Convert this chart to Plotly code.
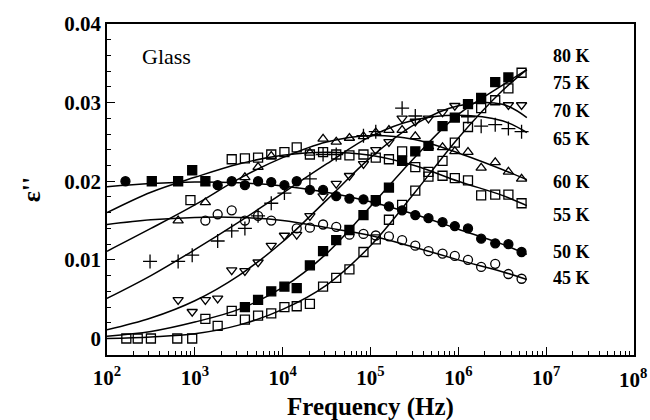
import numpy as np
import plotly.graph_objects as go

# ---- measured points: log10(frequency / Hz) and epsilon'' ----
f45 = [3.12, 3.26, 3.42, 3.57, 3.72, 3.87, 4.16, 4.31, 4.46, 4.61, 4.76, 4.92, 5.06, 5.21, 5.36, 5.51, 5.66, 5.82, 5.96, 6.11, 6.26, 6.42, 6.57, 6.72]
e45 = [0.0150, 0.0158, 0.0163, 0.0150, 0.0156, 0.0150, 0.0140, 0.0141, 0.0145, 0.0142, 0.0132, 0.0133, 0.0131, 0.0130, 0.0125, 0.0118, 0.0111, 0.0108, 0.0105, 0.0100, 0.0091, 0.0095, 0.0082, 0.0076]

f50 = [2.21, 3.26, 3.42, 3.57, 3.72, 3.87, 4.02, 4.16, 4.31, 4.46, 4.61, 4.76, 4.92, 5.06, 5.21, 5.36, 5.51, 5.66, 5.82, 5.96, 6.11, 6.26, 6.42, 6.57, 6.72]
e50 = [0.0200, 0.0195, 0.0200, 0.0195, 0.0200, 0.0199, 0.0195, 0.0200, 0.0189, 0.0189, 0.0181, 0.0178, 0.0177, 0.0174, 0.0168, 0.0163, 0.0157, 0.0153, 0.0148, 0.0143, 0.0140, 0.0127, 0.0121, 0.0120, 0.0110]

f_sq_low = [2.51, 2.81, 2.97, 3.12]
e_sq_low = [0.0200, 0.0200, 0.0214, 0.0200]

f55 = [2.95, 3.42, 3.57, 3.72, 3.87, 4.02, 4.16, 4.31, 4.46, 4.61, 4.76, 4.92, 5.06, 5.21, 5.36, 5.51, 5.66, 5.82, 5.96, 6.11, 6.26, 6.42, 6.57, 6.72]
e55 = [0.0176, 0.0228, 0.0229, 0.0230, 0.0234, 0.0237, 0.0243, 0.0234, 0.0237, 0.0234, 0.0233, 0.0234, 0.0230, 0.0228, 0.0238, 0.0218, 0.0212, 0.0207, 0.0204, 0.0201, 0.0182, 0.0183, 0.0183, 0.0172]

f60 = [2.81, 3.12, 3.57, 3.72, 3.87, 4.31, 4.46, 4.61, 4.76, 4.92, 5.06, 5.21, 5.36, 5.51, 5.66, 5.82, 5.96, 6.11, 6.26, 6.42, 6.57, 6.72]
e60 = [0.0150, 0.0173, 0.0205, 0.0218, 0.0232, 0.0236, 0.0254, 0.0250, 0.0255, 0.0257, 0.0262, 0.0265, 0.0265, 0.0257, 0.0244, 0.0243, 0.0238, 0.0237, 0.0217, 0.0224, 0.0212, 0.0203]

f65 = [2.49, 2.81, 2.97, 3.26, 3.42, 3.57, 3.72, 3.87, 4.02, 4.31, 4.46, 4.61, 4.92, 5.06, 5.36, 5.51, 6.11, 6.26, 6.42, 6.57, 6.72]
e65 = [0.0098, 0.0098, 0.0106, 0.0124, 0.0137, 0.0140, 0.0156, 0.0172, 0.0185, 0.0203, 0.0234, 0.0234, 0.0258, 0.0263, 0.0293, 0.0283, 0.0282, 0.0270, 0.0272, 0.0267, 0.0263]

f70 = [2.81, 2.97, 3.12, 3.26, 3.42, 3.57, 3.72, 3.87, 4.02, 4.16, 4.31, 4.46, 4.61, 4.76, 4.92, 5.06, 5.21, 5.36, 5.51, 5.66, 5.82, 5.96, 6.57, 6.72]
e70 = [0.0049, 0.0034, 0.0049, 0.0051, 0.0087, 0.0086, 0.0097, 0.0118, 0.0131, 0.0132, 0.0156, 0.0181, 0.0197, 0.0207, 0.0222, 0.0240, 0.0250, 0.0280, 0.0276, 0.0280, 0.0288, 0.0296, 0.0297, 0.0297]

f75 = [3.57, 3.72, 3.87, 4.02, 4.16, 4.31, 4.46, 4.61, 4.76, 4.92, 5.06, 5.21, 5.36, 5.51, 5.66, 5.82, 5.96, 6.11, 6.26, 6.42, 6.57]
e75 = [0.0040, 0.0049, 0.0060, 0.0066, 0.0064, 0.0093, 0.0111, 0.0125, 0.0138, 0.0157, 0.0176, 0.0192, 0.0226, 0.0238, 0.0245, 0.0270, 0.0281, 0.0298, 0.0306, 0.0326, 0.0332]

f80 = [2.22, 2.35, 2.50, 2.80, 2.97, 3.12, 3.26, 3.42, 3.57, 3.72, 3.87, 4.02, 4.16, 4.31, 4.46, 4.61, 4.76, 4.92, 5.06, 5.21, 5.36, 5.51, 5.66, 5.82, 5.96, 6.11, 6.26, 6.42, 6.57, 6.72]
e80 = [0.0000, 0.0000, 0.0000, 0.0000, 0.0000, 0.0025, 0.0016, 0.0035, 0.0024, 0.0029, 0.0032, 0.0040, 0.0041, 0.0044, 0.0066, 0.0077, 0.0088, 0.0110, 0.0126, 0.0151, 0.0170, 0.0188, 0.0206, 0.0226, 0.0249, 0.0269, 0.0293, 0.0303, 0.0318, 0.0338]

# ---- fitted curves read at knots: log10(frequency) and epsilon'' ----
fit_f = [2.0, 2.5, 3.0, 3.5, 4.0, 4.5, 5.0, 5.5, 6.0, 6.5, 6.78]
fit45 = [0.0145, 0.0151, 0.0154, 0.0154, 0.0150, 0.0141, 0.0131, 0.0116, 0.0100, 0.0085, 0.0075]
fit50 = [0.0193, 0.0197, 0.0199, 0.0198, 0.0194, 0.0186, 0.0174, 0.0158, 0.0139, 0.0120, 0.0107]
fit55 = [0.0160, 0.0186, 0.0205, 0.0222, 0.0233, 0.0237, 0.0233, 0.0220, 0.0200, 0.0182, 0.0169]
fit60 = [0.0111, 0.0140, 0.0170, 0.0203, 0.0230, 0.0250, 0.0258, 0.0253, 0.0236, 0.0215, 0.0202]
fit65 = [0.0051, 0.0080, 0.0113, 0.0148, 0.0185, 0.0222, 0.0257, 0.0278, 0.0284, 0.0277, 0.0262]
fit70 = [0.0011, 0.0026, 0.0048, 0.0080, 0.0123, 0.0176, 0.0230, 0.0272, 0.0296, 0.0298, 0.0281]
fit75 = [0.0003, 0.0009, 0.0021, 0.0037, 0.0065, 0.0108, 0.0168, 0.0230, 0.0285, 0.0322, 0.0342]
fit80 = [0.0000, 0.0002, 0.0006, 0.0017, 0.0037, 0.0068, 0.0118, 0.0185, 0.0255, 0.0315, 0.0342]

temps = ["80 K", "75 K", "70 K", "65 K", "60 K", "55 K", "50 K", "45 K"]
label_y = [0.0359, 0.0325, 0.0289, 0.0254, 0.0199, 0.0157, 0.0110, 0.0077]

x_tick_exp = [2, 3, 4, 5, 6, 7]
last_exp = 8

FONT = "Liberation Serif"
X_RANGE = [2, 8]
Y_RANGE = [-0.0021, 0.04]
fig = go.Figure()

def hz(lst):
    return [10 ** v for v in lst]

for fy in [fit45, fit50, fit55, fit60, fit65, fit70, fit75, fit80]:
    fig.add_trace(go.Scatter(x=hz(fit_f), y=fy, mode="lines", line=dict(color="black", width=1.5, shape="spline", smoothing=1.0), showlegend=False, hoverinfo="skip"))

series = [
    (f45, e45, "circle-open", 9),
    (f50, e50, "circle", 9),
    (f_sq_low, e_sq_low, "square", 9),
    (f55, e55, "square-open", 9),
    (f60, e60, "triangle-up-open", 9),
    (f65, e65, "cross-thin-open", 10),
    (f70, e70, "triangle-down-open", 9),
    (f75, e75, "square", 9),
    (f80, e80, "square-open", 9),
]
for fx, ey, sym, sz in series:
    fig.add_trace(go.Scatter(x=hz(fx), y=ey, mode="markers", showlegend=False,
                             marker=dict(symbol=sym, size=sz, color="black",
                                         line=dict(color="black", width=1.3))))

for t, yv in zip(temps, label_y):
    fig.add_annotation(x=7.05, y=yv, text=t, showarrow=False, xanchor="left", yanchor="middle",
                       font=dict(family=FONT, size=18, color="black", weight="bold"))

fig.add_annotation(x=2.38, y=0.0359, text="Glass", showarrow=False, xanchor="left", yanchor="middle",
                   font=dict(family=FONT, size=22, color="black"))

tickfont = dict(family=FONT, size=21, color="black", weight="bold")

# last x tick label, kept inside the page
fig.add_annotation(x=1.0, xref="paper", xshift=15, y=0, yref="paper", yshift=-8,
                   text="10<sup>%d</sup>" % last_exp, showarrow=False, xanchor="right", yanchor="top",
                   font=tickfont)
# x-axis title
fig.add_annotation(x=0.5, xref="paper", y=0, yref="paper", yshift=-36,
                   text="Frequency (Hz)", showarrow=False, xanchor="center", yanchor="top",
                   font=dict(family=FONT, size=25, color="black", weight="bold"))

minor_x = dict(ticks="inside", ticklen=4, tickcolor="black", tickwidth=1, dtick="D1", showgrid=False)
minor_y = dict(ticks="inside", ticklen=4, tickcolor="black", tickwidth=1, dtick=0.002, showgrid=False)
common = dict(showline=True, linecolor="black", linewidth=1.5, mirror=True,
              ticks="inside", tickcolor="black", tickwidth=1.2, ticklen=8, showgrid=False, zeroline=False)

fig.update_layout(
    width=650, height=420, margin=dict(l=107, r=16, t=17, b=65),
    plot_bgcolor="white", paper_bgcolor="white", showlegend=False,
    xaxis=dict(type="log", range=X_RANGE, tickvals=[10 ** e for e in x_tick_exp],
               ticktext=["10<sup>%d</sup>" % e for e in x_tick_exp], minor=minor_x,
               tickfont=tickfont, ticklabelstandoff=3, **common),
    yaxis=dict(range=Y_RANGE, dtick=0.01, tickformat=".2~f", minor=minor_y, tickfont=tickfont,
               title=dict(text="ε''", font=dict(family=FONT, size=26, color="black", weight="bold"), standoff=16),
               **common),
    xaxis2=dict(type="log", range=X_RANGE, dtick=1, overlaying="x", side="top", anchor="y",
                showticklabels=False, minor=minor_x, **common),
    yaxis2=dict(range=Y_RANGE, dtick=0.01, overlaying="y", side="right", anchor="x",
                showticklabels=False, minor=minor_y, **common),
)

fig.write_html("out.html")
